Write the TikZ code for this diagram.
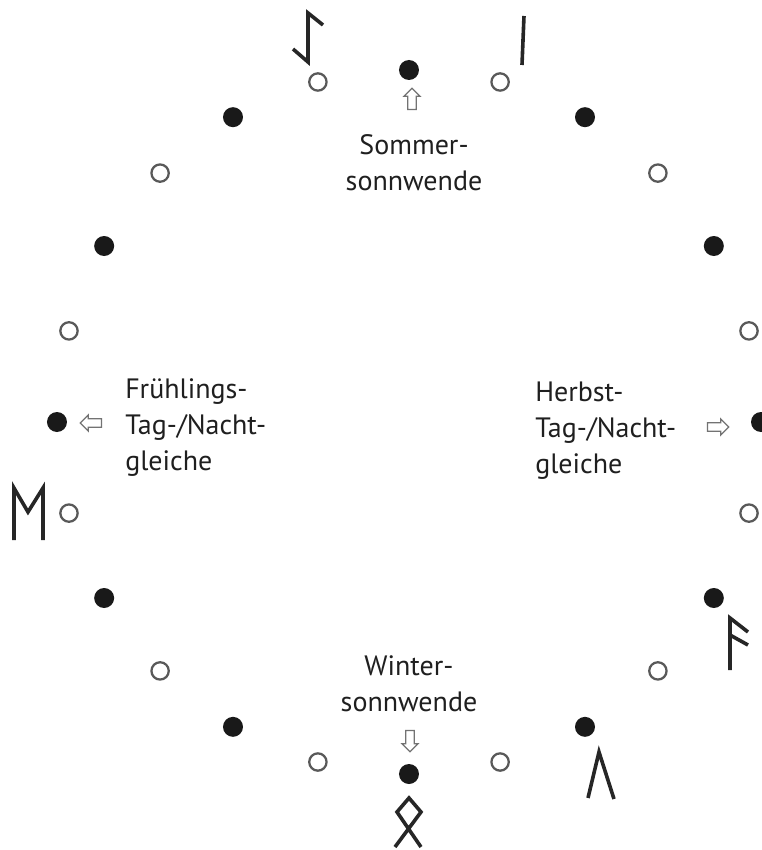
\documentclass[tikz,border=0pt]{standalone}
\usepackage{fontspec}
\setmainfont{PT Sans}
\usetikzlibrary{shapes.arrows}

\tikzset{
  full/.style={circle,fill=black!90,inner sep=0pt,minimum size=15pt},
  hollow/.style={circle,draw=black!65,line width=1.7pt,inner sep=0pt,minimum size=13pt},
  pointer/.style={single arrow,draw=black!55,line width=0.9pt,inner xsep=0pt,inner ysep=2.8pt,
    minimum height=16pt,single arrow head extend=2.8pt},
  rune/.style={line width=2.7pt,black!85},
  season/.style={font=\fontsize{21}{27}\selectfont,inner sep=0pt,text=black!88}
}

\begin{document}
\begin{tikzpicture}[x=0.75pt,y=0.75pt]
\useasboundingbox (-409,-428) rectangle (353,422);

% Dots
\node[full] (d0) at (0:352) {};
\node[hollow] (d1) at (15:352) {};
\node[full] (d2) at (30:352) {};
\node[hollow] (d3) at (45:352) {};
\node[full] (d4) at (60:352) {};
\node[hollow] (d5) at (75:352) {};
\node[full] (d6) at (90:352) {};
\node[hollow] (d7) at (105:352) {};
\node[full] (d8) at (120:352) {};
\node[hollow] (d9) at (135:352) {};
\node[full] (d10) at (150:352) {};
\node[hollow] (d11) at (165:352) {};
\node[full] (d12) at (180:352) {};
\node[hollow] (d13) at (195:352) {};
\node[full] (d14) at (210:352) {};
\node[hollow] (d15) at (225:352) {};
\node[full] (d16) at (240:352) {};
\node[hollow] (d17) at (255:352) {};
\node[full] (d18) at (270:352) {};
\node[hollow] (d19) at (285:352) {};
\node[full] (d20) at (300:352) {};
\node[hollow] (d21) at (315:352) {};
\node[full] (d22) at (330:352) {};
\node[hollow] (d23) at (345:352) {};

% Runes
\draw[rune] (-116,373) -- (-101,360) -- (-101,409) -- (-86,397);
\draw[rune] (115,406) -- (113,357);
\draw[rune] (-395,-118) -- (-395,-66) -- (-381,-90) -- (-366,-66) -- (-366,-118);
\draw[rune] (321,-248) -- (321,-196) -- (339,-210) (321,-213) -- (339,-223);
\draw[rune] (179,-376) -- (190,-330) -- (205,-377);
\draw[rune] (-14,-425) -- (12,-390) -- (0,-376) -- (-12,-390) -- (12,-425);

% Labels
\node[season,align=center] (som) at (5,259) {Sommer-\\sonnwende};
\node[season,align=center] (win) at (0,-262) {Winter-\\sonnwende};
\node[season,align=left,anchor=north west] (fru) at (-284,44) {Frühlings-\\Tag-/Nacht-\\gleiche};
\node[season,align=left,anchor=north west] (her) at (126,40) {Herbst-\\Tag-/Nacht-\\gleiche};

% Arrows
\node[pointer,rotate=90] (as) at (3,321) {};
\node[pointer,rotate=180] (af) at (-316,-1) {};
\node[pointer] (ah) at (307,-5) {};
\node[pointer,rotate=270] (aw) at (1,-317) {};

\end{tikzpicture}
\end{document}
